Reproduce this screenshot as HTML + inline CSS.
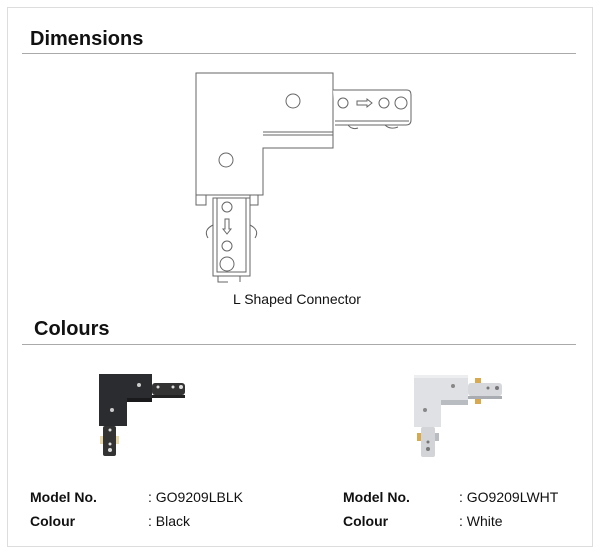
<!DOCTYPE html>
<html><head><meta charset="utf-8"><style>
body{margin:0;width:600px;height:554px;background:#fff;font-family:"Liberation Sans",sans-serif;position:relative;overflow:hidden}
.box{position:absolute;left:7px;top:7px;width:584px;height:538px;border:1px solid #ddd}
.h{position:absolute;font-weight:bold;font-size:20px;color:#111}
.ln{position:absolute;height:1px;background:#aaa}
.t{position:absolute;font-size:14px;color:#111}
.b{font-weight:bold}
</style></head><body>
<div class="box"></div>
<div class="h" style="left:30px;top:28px">Dimensions</div>
<div class="ln" style="left:22px;top:53px;width:554px"></div>
<div class="h" style="left:34px;top:318px">Colours</div>
<div class="ln" style="left:22px;top:344px;width:554px"></div>
<svg style="position:absolute;left:0;top:0" width="600" height="554">
<g fill="none" stroke="#666" stroke-width="1">
<path d="M196 73H333V148H263V195H196Z" fill="#fff"/>
<path d="M263 132H333M263 135H333"/>
<circle cx="293" cy="101" r="7"/><circle cx="226" cy="160" r="7"/>
<path d="M333 90H407Q411 90 411 95V120Q411 125 406 125H335" fill="#fff"/>
<path d="M335 121H409"/>
<circle cx="343" cy="103" r="5"/><circle cx="384" cy="103" r="5"/><circle cx="401" cy="103" r="6"/>
<path d="M357 101H367V99L372 103L367 107V105H357Z"/>
<path d="M348 125Q352 130 358 128M385 125Q390 130 398 127"/>
<path d="M196 195V205H206V195M250 195V205H258V195"/>
<path d="M213 198H250V276H213Z" fill="#fff"/>
<path d="M217 198V272H246V198"/>
<circle cx="227" cy="207" r="5"/><circle cx="227" cy="246" r="5"/><circle cx="227" cy="264" r="7"/>
<path d="M225 219V229H223L227 234L231 229H229V219Z"/>
<path d="M213 225Q203 230 208 238M250 225Q260 230 255 238"/>
<path d="M218 276V282H228M240 276V282"/>
</g>
<!-- black -->
<g>
<path d="M99 374H152V398H127V426H99Z" fill="#2b2c2f"/>
<path d="M127 398H152V402H127Z" fill="#1a1a1c"/>
<rect x="152" y="383" width="33" height="12" rx="3" fill="#333"/>
<rect x="152" y="395" width="33" height="3" fill="#222"/>
<circle cx="158" cy="387" r="1.5" fill="#ddd"/><circle cx="173" cy="387" r="1.5" fill="#ddd"/><circle cx="181" cy="387" r="2" fill="#ddd"/>
<circle cx="139" cy="385" r="2" fill="#ccc"/><circle cx="112" cy="410" r="2" fill="#ccc"/>
<rect x="103" y="426" width="13" height="30" rx="2" fill="#333"/>
<rect x="100" y="436" width="3" height="8" fill="#e8d9a8"/><rect x="116" y="436" width="3" height="8" fill="#e8d9a8"/>
<circle cx="110" cy="430" r="1.5" fill="#ddd"/><circle cx="110" cy="444" r="1.5" fill="#ddd"/><circle cx="110" cy="450" r="2" fill="#ddd"/>
</g>
<!-- white -->
<g>
<path d="M414 375H468V400H441V427H414Z" fill="#dfe1e4"/>
<path d="M441 400H468V405H441Z" fill="#b9bcc0"/>
<path d="M414 375H468V378H414Z" fill="#eceef0"/>
<rect x="468" y="383" width="34" height="13" rx="3" fill="#d6d8db"/>
<rect x="468" y="396" width="34" height="3" fill="#a9acb0"/>
<rect x="475" y="378" width="6" height="5" fill="#d9a950"/><rect x="475" y="399" width="6" height="5" fill="#d9a950"/>
<circle cx="453" cy="386" r="2" fill="#888"/><circle cx="425" cy="410" r="2" fill="#888"/>
<circle cx="488" cy="388" r="1.5" fill="#777"/><circle cx="497" cy="388" r="2" fill="#777"/>
<rect x="421" y="427" width="14" height="30" rx="2" fill="#d2d4d7"/>
<rect x="417" y="433" width="4" height="8" fill="#d9a950"/><rect x="435" y="433" width="4" height="8" fill="#b9bcc0"/>
<circle cx="428" cy="442" r="1.5" fill="#777"/><circle cx="428" cy="449" r="2" fill="#777"/>
</g>
</svg>
<div class="t" style="left:0;width:594px;text-align:center;top:291px">L Shaped Connector</div>
<div class="t b" style="left:30px;top:489px">Model No.</div>
<div class="t" style="left:148px;top:489px">: GO9209LBLK</div>
<div class="t b" style="left:30px;top:513px">Colour</div>
<div class="t" style="left:148px;top:513px">: Black</div>
<div class="t b" style="left:343px;top:489px">Model No.</div>
<div class="t" style="left:459px;top:489px">: GO9209LWHT</div>
<div class="t b" style="left:343px;top:513px">Colour</div>
<div class="t" style="left:459px;top:513px">: White</div>
</body></html>
